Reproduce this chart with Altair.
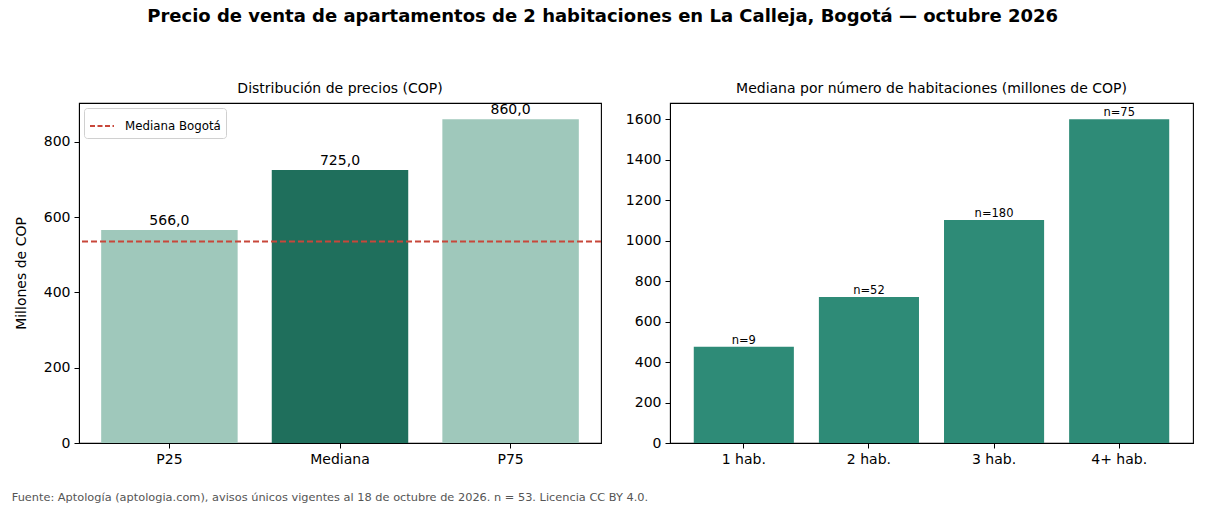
import altair as alt
import pandas as pd

# ---- data ----
stats = ["P25", "Mediana", "P75"]
stat_values = [566.0, 725.0, 860.0]
stat_colors = ["#9fc8bb", "#1f6f5c", "#9fc8bb"]
bogota_median = [535.0]
bogota_label = ["Mediana Bogotá"]

rooms = ["1 hab.", "2 hab.", "3 hab.", "4+ hab."]
room_values = [475.0, 722.0, 1102.0, 1600.0]
room_counts = [9, 52, 180, 75]

title_text = "Precio de venta de apartamentos de 2 habitaciones en La Calleja, Bogotá — octubre 2026"
left_title = "Distribución de precios (COP)"
right_title = "Mediana por número de habitaciones (millones de COP)"
footer_text = "Fuente: Aptología (aptologia.com), avisos únicos vigentes al 18 de octubre de 2026. n = 53. Licencia CC BY 4.0."

FONT = "DejaVu Sans"

df_left = pd.DataFrame({
    "stat": stats,
    "value": stat_values,
    "label": [f"{v:.1f}".replace(".", ",") for v in stat_values],
})
df_rule = pd.DataFrame({"value": bogota_median, "serie": bogota_label})
df_right = pd.DataFrame({
    "room": rooms,
    "value": room_values,
    "label": [f"n={n}" for n in room_counts],
})

axis_common = dict(
    domainColor="black", tickColor="black", labelColor="black",
    labelFont=FONT, labelFontSize=14, tickSize=5, labelPadding=4,
    grid=False, titleFont=FONT, titleFontWeight="normal", titleColor="black",
)

# ---- left panel ----
xl = alt.X("stat:N", sort=stats, title=None,
           scale=alt.Scale(paddingInner=0.2, paddingOuter=0.13),
           axis=alt.Axis(labelAngle=0, **axis_common))
yl = alt.Y("value:Q", title="Millones de COP",
           scale=alt.Scale(domain=[0, 903], nice=False),
           axis=alt.Axis(values=[0, 200, 400, 600, 800], format="d", titleFontSize=14,
                         titlePadding=15, **axis_common))

bars_l = alt.Chart(df_left).mark_bar().encode(
    x=xl, y=yl,
    fill=alt.Fill("stat:N", scale=alt.Scale(domain=stats, range=stat_colors), legend=None),
)
text_l = alt.Chart(df_left).mark_text(baseline="bottom", dy=-2, font=FONT, fontSize=14, color="black").encode(
    x=alt.X("stat:N", sort=stats), y="value:Q", text="label:N")
rule_l = alt.Chart(df_rule).mark_rule(strokeDash=[6, 3], strokeWidth=2).encode(
    y="value:Q",
    stroke=alt.Stroke("serie:N", scale=alt.Scale(domain=bogota_label, range=["#c8473a"]),
                      legend=alt.Legend(title=None, orient="top-left", symbolType="stroke",
                                        symbolDash=[5, 2.5], symbolStrokeWidth=2, symbolSize=576,
                                        strokeColor="#d0d0d0", cornerRadius=3, padding=5,
                                        labelOffset=10,
                                        fillColor="white", labelFont=FONT, labelFontSize=11.8,
                                        labelColor="black", offset=5)),
)

left = alt.layer(bars_l, rule_l, text_l).properties(
    width=522, height=340,
    title=alt.TitleParams(left_title, font=FONT, fontSize=14, fontWeight="normal",
                          color="black", offset=7),
)

# ---- right panel ----
xr = alt.X("room:N", sort=rooms, title=None,
           scale=alt.Scale(paddingInner=0.2, paddingOuter=0.19),
           axis=alt.Axis(labelAngle=0, **axis_common))
yr = alt.Y("value:Q", title=None,
           scale=alt.Scale(domain=[0, 1680], nice=False),
           axis=alt.Axis(values=[0, 200, 400, 600, 800, 1000, 1200, 1400, 1600], format="d",
                         **axis_common))

bars_r = alt.Chart(df_right).mark_bar(color="#2e8b77").encode(x=xr, y=yr)
text_r = alt.Chart(df_right).mark_text(baseline="bottom", dy=-1, font=FONT, fontSize=11.5, color="black").encode(
    x=alt.X("room:N", sort=rooms), y="value:Q", text="label:N")

right = alt.layer(bars_r, text_r).properties(
    width=523, height=340,
    title=alt.TitleParams(right_title, font=FONT, fontSize=14, fontWeight="normal",
                          color="black", offset=7),
)

panels = alt.hconcat(left, right, spacing=21).resolve_scale(x="independent", y="independent")

chart = alt.vconcat(
    panels.properties(title=alt.TitleParams(footer_text, orient="bottom", anchor="start",
                                            font=FONT, fontSize=11.35, fontWeight="normal",
                                            color="#555555", offset=25, dx=-2)),
).properties(
    title=alt.TitleParams(title_text, font=FONT, fontSize=18, fontWeight="bold",
                          color="black", anchor="middle", offset=55),
    padding={"left": 11, "top": 8, "right": 10, "bottom": 5},
).configure(background="white", view=alt.ViewConfig(stroke="black", strokeWidth=1.1))

chart.save("out.html", embed_options={"renderer": "svg", "actions": False})
